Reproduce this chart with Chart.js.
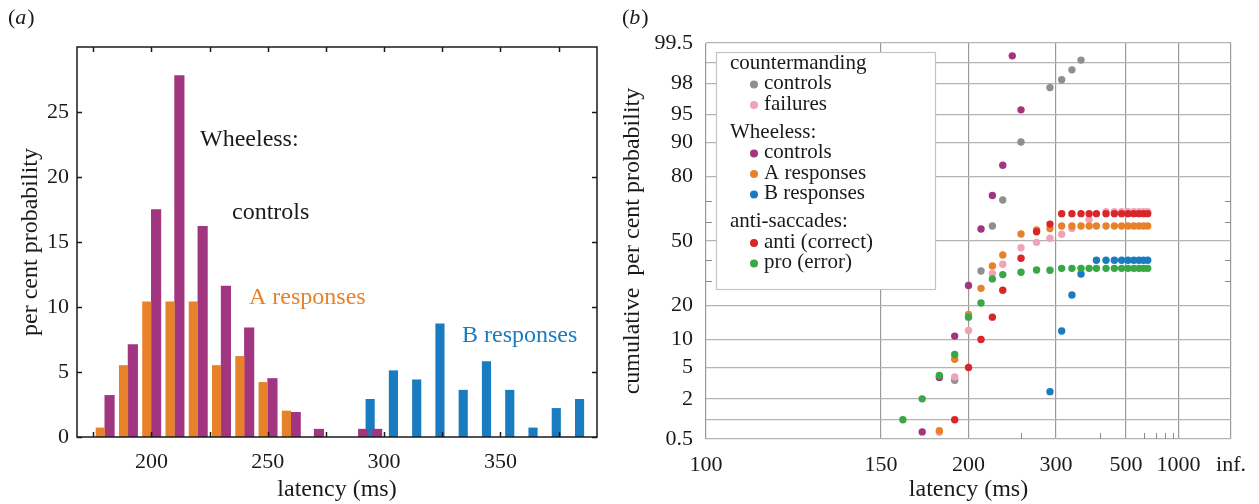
<!DOCTYPE html>
<html>
<head>
<meta charset="utf-8">
<script src="https://cdn.jsdelivr.net/npm/chart.js@4.4.1/dist/chart.umd.min.js"></script>
<style>
  html, body { margin: 0; padding: 0; background: #fff; }
  #wrap { position: relative; width: 1259px; height: 504px; overflow: hidden; }
  canvas { position: absolute; top: 0; }
  #ca { left: 0; }
  #cb { left: 616px; }
</style>
</head>
<body>
<div id="wrap">
  <canvas id="ca" width="616" height="504"></canvas>
  <canvas id="cb" width="643" height="504"></canvas>
</div>
<script>
// ---------- panel (a): histograms, latency (ms) vs per cent ----------
const orangeLatency = [178, 188, 198, 208, 218, 228, 238, 248, 258];
const orangePct     = [0.7, 5.5, 10.4, 10.4, 10.4, 5.5, 6.2, 4.2, 2.0];
const purpleLatency = [182, 192, 202, 212, 222, 232, 242, 252, 262, 272, 291, 297];
const purplePct     = [3.2, 7.1, 17.5, 27.8, 16.2, 11.6, 8.4, 4.5, 1.9, 0.6, 0.6, 0.6];
const blueLatency   = [294, 304, 314, 324, 334, 344, 354, 364, 374, 384];
const bluePct       = [2.9, 5.1, 4.4, 8.7, 3.6, 5.8, 3.6, 0.7, 2.2, 2.9];
const histLabelTicks = [200, 250, 300, 350];
const histMarkTicks  = [175, 200, 225, 250, 275, 300, 325, 350, 375];
const histYTicks     = [0, 5, 10, 15, 20, 25];

// ---------- panel (b): reciprobit plot, latency (ms) vs cumulative per cent ----------
const grayLat   = [190, 210, 220, 230, 250, 290, 310, 330, 350];
const grayPct   = [3.5, 34.8, 57.7, 70.3, 90.1, 97.7, 98.2, 98.7, 99.07];
const pinkLat   = [180, 190, 200, 220, 230, 250, 270, 290, 310, 330, 370, 420, 450, 480, 510, 540, 570, 600, 630];
const pinkPct   = [0.64, 3.85, 12.2, 33.7, 38.1, 46.5, 49.3, 51.4, 53.5, 56.5, 61.1, 64.8, 64.8, 64.8, 64.8, 64.8, 64.8, 64.8, 64.8];
const purpleLat = [170, 180, 190, 200, 210, 220, 230, 250, 240];
const purpleCum = [0.65, 3.8, 10.8, 28.1, 56.2, 72.3, 83.8, 95.6, 99.2];
const orangeLat = [180, 190, 200, 210, 220, 230, 250, 270, 290, 310, 330, 350, 370, 390, 420, 450, 480, 510, 540, 570, 600, 630];
const orangeCum = [0.68, 6.2, 17.0, 26.9, 37.3, 42.8, 53.6, 55.7, 56.4, 57.7, 57.7, 57.7, 57.7, 57.7, 57.7, 57.7, 57.7, 57.7, 57.7, 57.7, 57.7, 57.7];
const blueLat   = [290, 310, 330, 350, 390, 420, 450, 480, 510, 540, 570, 600, 630];
const blueCum   = [2.5, 12.1, 24.1, 33.4, 40.1, 40.1, 40.1, 40.1, 40.1, 40.1, 40.1, 40.1, 40.1];
const redLat    = [190, 200, 210, 220, 230, 250, 270, 290, 310, 330, 350, 370, 390, 420, 450, 480, 510, 540, 570, 600, 630];
const redCum    = [1.0, 5.0, 10.0, 16.1, 26.1, 41.1, 54.8, 58.7, 63.9, 63.9, 63.9, 63.9, 63.9, 63.9, 63.9, 63.9, 63.9, 63.9, 63.9, 63.9, 63.9];
const greenLat  = [160, 170, 180, 190, 200, 210, 220, 230, 250, 270, 290, 310, 330, 350, 370, 390, 420, 450, 480, 510, 540, 570, 600, 630];
const greenCum  = [1.0, 2.0, 4.0, 7.0, 16.1, 21.0, 31.1, 33.1, 34.2, 35.3, 35.2, 36.1, 36.1, 36.1, 36.1, 36.1, 36.1, 36.1, 36.1, 36.1, 36.1, 36.1, 36.1, 36.1];

const xTickLat    = [100, 150, 200, 300, 500, 1000, Infinity];
const xTickLabels = ['100', '150', '200', '300', '500', '1000', 'inf.'];
const xMinorLat   = [250, 400, 600, 700, 800, 900];
const yTickPct    = [0.5, 1, 2, 5, 10, 20, 50, 80, 90, 95, 98, 99, 99.5];
const yTickLabels = ['0.5', '', '2', '5', '10', '20', '50', '80', '90', '95', '98', '', '99.5'];
const yMinorPct   = [30, 40, 60, 70];

const ORANGE = '#e8822a', PURPLE = '#a2357f', BLUE = '#1a7cc0';
const GRAY = '#8f8f8f', PINK = '#f0a2b6', RED = '#d8262b', GREEN = '#3aa746';
const SERIF = '"Liberation Serif", "DejaVu Serif", serif';
const INK = '#1a1a1a';

// inverse normal CDF (Acklam)
function probit(p) {
  const a = [-3.969683028665376e+01, 2.209460984245205e+02, -2.759285104469687e+02, 1.383577518672690e+02, -3.066479806614716e+01, 2.506628277459239e+00];
  const b = [-5.447609879822406e+01, 1.615858368580409e+02, -1.556989798598866e+02, 6.680131188771972e+01, -1.328068155288572e+01];
  const c = [-7.784894002430293e-03, -3.223964580411365e-01, -2.400758277161838e+00, -2.549732539343734e+00, 4.374664141464968e+00, 2.938163982698783e+00];
  const d = [7.784695709041462e-03, 3.224671290700398e-01, 2.445134137142996e+00, 3.754408661907416e+00];
  const pl = 0.02425, ph = 1 - pl;
  let q, r;
  if (p < pl) {
    q = Math.sqrt(-2 * Math.log(p));
    return (((((c[0]*q+c[1])*q+c[2])*q+c[3])*q+c[4])*q+c[5]) / ((((d[0]*q+d[1])*q+d[2])*q+d[3])*q+1);
  }
  if (p <= ph) {
    q = p - 0.5; r = q * q;
    return (((((a[0]*r+a[1])*r+a[2])*r+a[3])*r+a[4])*r+a[5])*q / (((((b[0]*r+b[1])*r+b[2])*r+b[3])*r+b[4])*r+1);
  }
  q = Math.sqrt(-2 * Math.log(1 - p));
  return -(((((c[0]*q+c[1])*q+c[2])*q+c[3])*q+c[4])*q+c[5]) / ((((d[0]*q+d[1])*q+d[2])*q+d[3])*q+1);
}
const recip = t => -1000 / t;   // reciprocal latency axis, inf -> 0
const bars = (xs, ys) => xs.map((v, i) => ({ x: v, y: ys[i] }));
const pts = (xs, ys) => xs.map((v, i) => ({ x: recip(v), y: probit(ys[i] / 100) }));

function line(ctx, x1, y1, x2, y2) {
  ctx.beginPath(); ctx.moveTo(x1, y1); ctx.lineTo(x2, y2); ctx.stroke();
}
function panelLabel(ctx, letter, x, y) {
  ctx.save();
  ctx.fillStyle = INK; ctx.textBaseline = 'middle'; ctx.textAlign = 'left';
  ctx.font = '22px ' + SERIF;
  ctx.fillText('(', x, y);
  let w = ctx.measureText('(').width;
  ctx.font = 'italic 22px ' + SERIF;
  ctx.fillText(letter, x + w, y);
  w += ctx.measureText(letter).width;
  ctx.font = '22px ' + SERIF;
  ctx.fillText(')', x + w + 1, y);
  ctx.restore();
}

const histNotes = [
  { text: 'Wheeless:', x: 200, y: 140, color: INK },
  { text: 'controls', x: 232, y: 213, color: INK },
  { text: 'A responses', x: 249, y: 298, color: ORANGE },
  { text: 'B responses', x: 462, y: 336, color: BLUE }
];

const frameA = {
  id: 'frameA',
  afterDraw(chart) {
    const { ctx, chartArea: a, scales: { x, y } } = chart;
    ctx.save();
    ctx.strokeStyle = INK; ctx.lineWidth = 1.5;
    ctx.strokeRect(a.left, a.top, a.right - a.left, a.bottom - a.top);
    histMarkTicks.forEach(v => {
      const px = Math.round(x.getPixelForValue(v)) + 0.5;
      line(ctx, px, a.bottom, px, a.bottom - 5);
      line(ctx, px, a.top, px, a.top + 5);
    });
    histYTicks.forEach(v => {
      const py = Math.round(y.getPixelForValue(v)) + 0.5;
      line(ctx, a.left, py, a.left + 5, py);
      line(ctx, a.right, py, a.right - 5, py);
    });
    ctx.font = '24px ' + SERIF;
    ctx.textBaseline = 'middle';
    histNotes.forEach(n => { ctx.fillStyle = n.color; ctx.fillText(n.text, n.x, n.y); });
    ctx.restore();
    panelLabel(ctx, 'a', 8, 18);
  }
};

new Chart(document.getElementById('ca'), {
  type: 'bar',
  data: {
    datasets: [
      { label: 'A responses', data: bars(orangeLatency, orangePct), backgroundColor: ORANGE, barThickness: 8.5 },
      { label: 'controls', data: bars(purpleLatency, purplePct), backgroundColor: PURPLE, barThickness: 9.5 },
      { label: 'B responses', data: bars(blueLatency, bluePct), backgroundColor: BLUE, barThickness: 8.5 }
    ]
  },
  options: {
    responsive: false, animation: false, events: [],
    layout: { padding: { left: 0, top: 47, right: 19, bottom: 0 } },
    datasets: { bar: { grouped: false } },
    plugins: { legend: { display: false }, tooltip: { enabled: false } },
    scales: {
      x: {
        type: 'linear', min: 168, max: 391.5, offset: false,
        grid: { display: false, drawTicks: false }, border: { display: false },
        afterBuildTicks: s => { s.ticks = histLabelTicks.map(v => ({ value: v })); },
        afterFit: s => { s.height = 67; },
        ticks: { autoSkip: false, maxRotation: 0, padding: 12, color: INK, font: { family: SERIF, size: 22 } },
        title: { display: true, text: 'latency (ms)', color: INK, font: { family: SERIF, size: 24 }, padding: { top: 0, bottom: 0 } }
      },
      y: {
        min: 0, max: 30,
        grid: { display: false, drawTicks: false }, border: { display: false },
        afterBuildTicks: s => { s.ticks = histYTicks.map(v => ({ value: v })); },
        afterFit: s => { s.width = 77; },
        ticks: { padding: 8, color: INK, font: { family: SERIF, size: 22 } },
        title: { display: true, text: 'per cent probability', color: INK, font: { family: SERIF, size: 24 }, padding: { top: 16, bottom: 0 } }
      }
    }
  },
  plugins: [frameA]
});

// ---------- panel (b) ----------
const legendGroups = [
  { title: 'countermanding', items: [['controls', GRAY], ['failures', PINK]] },
  { title: 'Wheeless:', items: [['controls', PURPLE], ['A responses', ORANGE], ['B responses', BLUE]] },
  { title: 'anti-saccades:', items: [['anti (correct)', RED], ['pro (error)', GREEN]] }
];

const extrasB = {
  id: 'extrasB',
  afterDatasetsDraw(chart) {
    const { ctx, chartArea: a, scales: { x, y } } = chart;
    ctx.save();
    ctx.strokeStyle = '#8a8a8a'; ctx.lineWidth = 1;
    yMinorPct.forEach(p => {
      const py = Math.round(y.getPixelForValue(probit(p / 100))) + 0.5;
      line(ctx, a.left, py, a.left + 6, py);
      line(ctx, a.right, py, a.right - 6, py);
    });
    xMinorLat.forEach(t => {
      const px = Math.round(x.getPixelForValue(recip(t))) + 0.5;
      line(ctx, px, a.bottom, px, a.bottom - 6);
    });
    // legend box
    const bx = 100, by = 52, bw = 219, bh = 237;
    ctx.fillStyle = '#fff';
    ctx.fillRect(bx, by, bw, bh);
    ctx.strokeStyle = '#c4c4c4'; ctx.lineWidth = 1.2;
    ctx.strokeRect(bx + 0.5, by + 0.5, bw, bh);
    ctx.font = '21px ' + SERIF; ctx.textBaseline = 'middle'; ctx.textAlign = 'left';
    let ly = 63;
    legendGroups.forEach((g, gi) => {
      if (gi > 0) ly += 28;
      ctx.fillStyle = INK;
      ctx.fillText(g.title, 114, ly);
      g.items.forEach(([txt, col]) => {
        ly += 20.5;
        ctx.fillStyle = col;
        ctx.beginPath(); ctx.arc(138, ly + 1, 4, 0, Math.PI * 2); ctx.fill();
        ctx.fillStyle = INK;
        ctx.fillText(txt, 148, ly);
      });
    });
    ctx.restore();
    panelLabel(ctx, 'b', 6, 18);
  }
};

const ptStyle = col => ({ backgroundColor: col, borderWidth: 0, pointRadius: 3.7, pointHoverRadius: 3.7 });

new Chart(document.getElementById('cb'), {
  type: 'scatter',
  data: {
    datasets: [
      { label: 'anti (correct)', data: pts(redLat, redCum), ...ptStyle(RED) },
      { label: 'pro (error)', data: pts(greenLat, greenCum), ...ptStyle(GREEN) },
      { label: 'A responses', data: pts(orangeLat, orangeCum), ...ptStyle(ORANGE) },
      { label: 'failures', data: pts(pinkLat, pinkPct), ...ptStyle(PINK) },
      { label: 'countermanding controls', data: pts(grayLat, grayPct), ...ptStyle(GRAY) },
      { label: 'Wheeless controls', data: pts(purpleLat, purpleCum), ...ptStyle(PURPLE) },
      { label: 'B responses', data: pts(blueLat, blueCum), ...ptStyle(BLUE) }
    ]
  },
  options: {
    responsive: false, animation: false, events: [],
    layout: { padding: { left: 0, top: 43, right: 23, bottom: 0 } },
    plugins: { legend: { display: false }, tooltip: { enabled: false } },
    scales: {
      x: {
        type: 'linear', min: recip(100), max: 0,
        grid: { color: '#9a9a9a', lineWidth: 1.2, drawTicks: false }, border: { display: false },
        afterBuildTicks: s => { s.ticks = xTickLat.map(t => ({ value: recip(t) })); },
        afterFit: s => { s.height = 65; },
        ticks: { autoSkip: false, maxRotation: 0, padding: 13, color: INK, font: { family: SERIF, size: 22 },
                 callback: (v, i) => xTickLabels[i] },
        title: { display: true, text: 'latency (ms)', color: INK, font: { family: SERIF, size: 24 }, padding: { top: 0, bottom: 0 } }
      },
      y: {
        type: 'linear', min: probit(0.005), max: probit(0.995),
        grid: { color: '#b3b3b3', lineWidth: 1.2, drawTicks: false }, border: { display: false },
        afterBuildTicks: s => { s.ticks = yTickPct.map(p => ({ value: probit(p / 100) })); },
        afterFit: s => { s.width = 90; },
        ticks: { autoSkip: false, padding: 13, color: INK, font: { family: SERIF, size: 22 },
                 callback: (v, i) => yTickLabels[i] },
        title: { display: true, text: 'cumulative  per cent probability', color: INK, font: { family: SERIF, size: 24 }, padding: { top: 2, bottom: 0 } }
      }
    }
  },
  plugins: [extrasB]
});
</script>
</body>
</html>
